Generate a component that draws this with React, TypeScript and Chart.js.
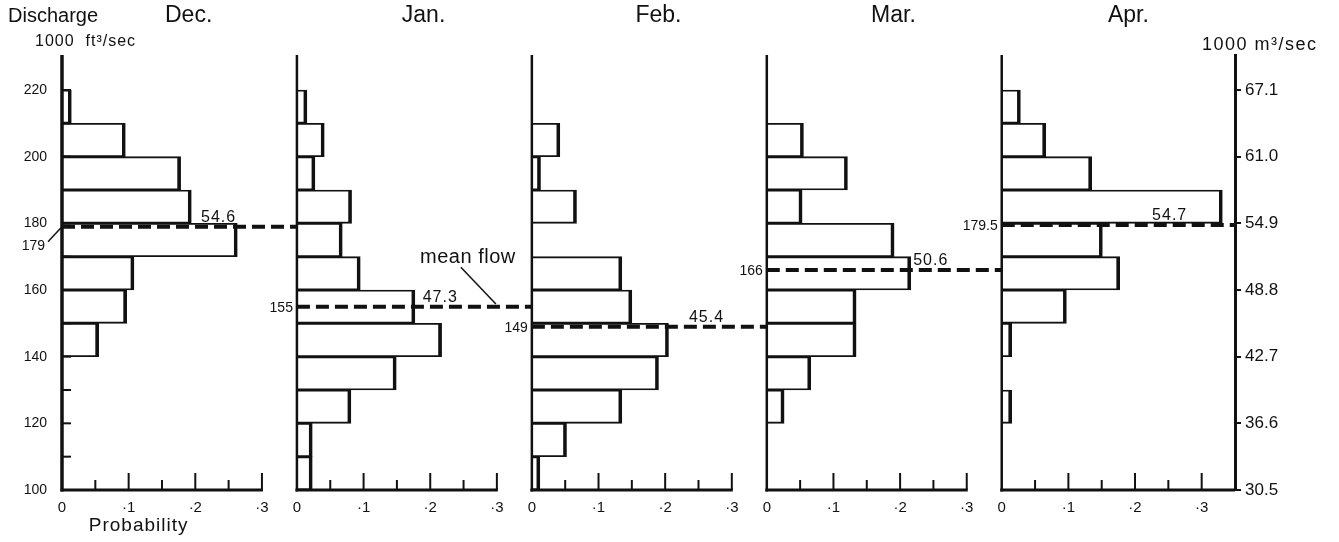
import React, { useEffect, useRef } from "react";
import { Chart, registerables } from "chart.js";

Chart.register(...registerables);

// ---------- data ----------
const MONTHS = ["Dec.", "Jan.", "Feb.", "Mar.", "Apr."];
// lower edge of each discharge class (1000 ft3/sec), class width 10
const BIN_LOWER = [100, 110, 120, 130, 140, 150, 160, 170, 180, 190, 200, 210];
const BIN_WIDTH = 10;
const DEC = [0, 0, 0, 0, 0.055, 0.097, 0.108, 0.263, 0.194, 0.178, 0.095, 0.014];
const JAN = [0.023, 0.023, 0.081, 0.149, 0.217, 0.177, 0.095, 0.068, 0.082, 0.027, 0.041, 0.015];
const FEB = [0.012, 0.052, 0.135, 0.19, 0.205, 0.15, 0.135, 0, 0.067, 0.013, 0.042, 0];
const MAR = [0, 0, 0.026, 0.066, 0.134, 0.134, 0.216, 0.191, 0.053, 0.121, 0.055, 0];
const APR = [0, 0, 0.015, 0, 0.015, 0.097, 0.177, 0.151, 0.331, 0.135, 0.066, 0.028];
const SERIES = [DEC, JAN, FEB, MAR, APR];

const MEAN_KFT = [179, 155, 149, 166, 179.5];
const MEAN_KFT_LABELS = ["179", "155", "149", "166", "179.5"];
const MEAN_M3_LABELS = ["54.6", "47.3", "45.4", "50.6", "54.7"];

const Y_TICKS = [100, 110, 120, 130, 140, 150, 160, 170, 180, 190, 200, 210, 220];
const Y_LABELLED = [100, 120, 140, 160, 180, 200, 220];
const RIGHT_TICK_LABELS = ["30.5", "36.6", "42.7", "48.8", "54.9", "61.0", "67.1"];
const X_TICK_VALUES = [0, 0.1, 0.2, 0.3];
const X_TICK_LABELS = ["0", "·1", "·2", "·3"];
const X_MINOR_VALUES = [0.05, 0.1, 0.15, 0.2, 0.25, 0.3];

// ---------- layout ----------
const PANEL_STEP = 0.3525;
const LAST_MAX = 0.35;
const X_MAX = 4 * PANEL_STEP + LAST_MAX;
const Y_MIN = 100;
const Y_MAX = 230.5;
const VALUE_LABEL_POS = [0.235, 0.215, 0.262, 0.246, 0.252];
const TITLE_POS = 0.19;
const INK = "#111";
const FONT = '"Liberation Sans", Arial, Helvetica, sans-serif';

function localTickLabel(value: number): string {
  const panel = Math.floor((value + 1e-6) / PANEL_STEP);
  const local = value - panel * PANEL_STEP;
  const i = X_TICK_VALUES.findIndex((t) => Math.abs(t - local) < 1e-6);
  return i >= 0 ? X_TICK_LABELS[i] : "";
}

const decor = {
  id: "decor",
  afterDatasetsDraw(chart: any) {
    const ctx: any = chart.ctx;
    const xs = chart.scales.x;
    const ys = chart.scales.y;
    const area = chart.chartArea;
    const X = (p: number, v: number) => xs.getPixelForValue(p * PANEL_STEP + v);
    const Y = (v: number) => ys.getPixelForValue(v);
    const line = (x1: number, y1: number, x2: number, y2: number) => {
      ctx.beginPath();
      ctx.moveTo(x1, y1);
      ctx.lineTo(x2, y2);
      ctx.stroke();
    };
    ctx.save();
    ctx.strokeStyle = INK;
    ctx.fillStyle = INK;
    ctx.lineCap = "butt";

    for (let p = 0; p < 5; p++) {
      const x0 = X(p, 0);
      ctx.lineWidth = p === 0 ? 3.5 : 2.5;
      line(x0, Y(Y_MIN) + 1.5, x0, area.top);
      ctx.lineWidth = 3;
      const xEnd = p === 4 ? xs.getPixelForValue(X_MAX) : X(p, 0.3) + 1;
      line(x0 - 1.5, Y(Y_MIN), xEnd, Y(Y_MIN));
      ctx.lineWidth = 2;
      X_MINOR_VALUES.forEach((v, k) => {
        const len = k % 2 === 1 ? 17 : 10;
        line(X(p, v), Y(Y_MIN), X(p, v), Y(Y_MIN) - len);
      });
    }
    // minor ticks on the discharge axis of the first panel
    ctx.lineWidth = 2;
    Y_TICKS.forEach((v) => line(X(0, 0), Y(v), X(0, 0) + 9, Y(v)));

    // mean-flow lines
    ctx.lineWidth = 4;
    ctx.setLineDash([13, 6]);
    for (let p = 0; p < 5; p++) {
      const y = Y(MEAN_KFT[p]);
      const x1 = p < 4 ? X(p + 1, 0) : xs.getPixelForValue(X_MAX);
      line(X(p, 0), y, x1, y);
    }
    ctx.setLineDash([]);

    // labels of the mean flow
    for (let p = 0; p < 5; p++) {
      const y = Y(MEAN_KFT[p]);
      const x0 = X(p, 0);
      ctx.font = `14px ${FONT}`;
      ctx.letterSpacing = "0px";
      ctx.textBaseline = "middle";
      ctx.textAlign = "right";
      if (p === 0) {
        ctx.fillText(MEAN_KFT_LABELS[p], x0 - 17, y + 19);
        ctx.lineWidth = 1.5;
        line(x0 - 14, y + 15, x0 - 1, y + 1);
      } else {
        ctx.fillText(MEAN_KFT_LABELS[p], x0 - 4, y + 1);
      }
      ctx.textAlign = "center";
      ctx.textBaseline = "alphabetic";
      ctx.font = `16px ${FONT}`;
      ctx.letterSpacing = "1px";
      ctx.fillText(MEAN_M3_LABELS[p], X(p, VALUE_LABEL_POS[p]), y - 5);
    }

    // "mean flow" annotation
    ctx.textBaseline = "middle";
    ctx.font = `20px ${FONT}`;
    ctx.letterSpacing = "0.5px";
    ctx.textAlign = "center";
    ctx.fillText("mean flow", X(1, 0.2565), Y(169.8));
    ctx.lineWidth = 1.5;
    line(X(1, 0.246), Y(166.8), X(1, 0.2985), Y(155.8));

    // titles
    ctx.letterSpacing = "0px";
    ctx.font = `23px ${FONT}`;
    MONTHS.forEach((m, p) => ctx.fillText(m, X(p, TITLE_POS), area.top - 39));
    ctx.textAlign = "left";
    ctx.font = `20px ${FONT}`;
    ctx.fillText("Discharge", 8, area.top - 39);
    ctx.font = `16px ${FONT}`;
    ctx.letterSpacing = "1px";
    ctx.fillText("1000  ft³/sec", 35, area.top - 13);
    ctx.font = `18px ${FONT}`;
    ctx.letterSpacing = "1.5px";
    ctx.fillText("1000 m³/sec", area.right - 33, area.top - 10);
    ctx.textAlign = "center";
    ctx.font = `19px ${FONT}`;
    ctx.letterSpacing = "1px";
    ctx.fillText("Probability", X(0, 0.115), area.bottom + 36);
    ctx.restore();
  },
};

export default function App() {
  const ref = useRef<HTMLCanvasElement | null>(null);
  useEffect(() => {
    if (!ref.current) return;
    const datasets = SERIES.map((vals, p) => ({
      label: MONTHS[p],
      data: BIN_LOWER.map((lo, i) =>
        vals[i] > 0 ? { y: lo + BIN_WIDTH / 2, x: [p * PANEL_STEP, p * PANEL_STEP + vals[i]] } : null
      ).filter((d) => d !== null),
      backgroundColor: "rgba(255,255,255,0)",
      borderColor: INK,
      borderWidth: { top: 1.2, bottom: 1.2, left: 0, right: 3 },
      borderSkipped: false,
      barPercentage: 1,
      categoryPercentage: 1,
      grouped: false,
    }));
    const chart = new Chart(ref.current, {
      type: "bar",
      data: { datasets: datasets as any },
      plugins: [decor],
      options: {
        indexAxis: "y",
        animation: false,
        responsive: true,
        maintainAspectRatio: false,
        events: [],
        layout: { padding: { top: 55, left: 0, right: 0, bottom: 0 } },
        plugins: { legend: { display: false }, tooltip: { enabled: false } },
        scales: {
          x: {
            type: "linear",
            position: "bottom",
            min: 0,
            max: X_MAX,
            offset: false,
            grid: { display: false, offset: false },
            border: { display: false },
            afterBuildTicks: (s: any) => {
              const t: any[] = [];
              for (let p = 0; p < 5; p++) X_TICK_VALUES.forEach((v) => t.push({ value: p * PANEL_STEP + v }));
              s.ticks = t;
            },
            afterFit: (s: any) => {
              s.height = 52;
            },
            ticks: {
              autoSkip: false,
              maxRotation: 0,
              padding: 1,
              color: INK,
              font: { family: FONT, size: 15 },
              callback: (v: any) => localTickLabel(Number(v)),
            },
          },
          y: {
            type: "linear",
            position: "left",
            min: Y_MIN,
            max: Y_MAX,
            offset: false,
            grid: { display: false, offset: false },
            border: { display: false },
            afterBuildTicks: (s: any) => {
              s.ticks = Y_TICKS.map((v) => ({ value: v }));
            },
            afterFit: (s: any) => {
              s.width = 62;
            },
            ticks: {
              autoSkip: false,
              padding: 7,
              color: INK,
              font: { family: FONT, size: 14 },
              callback: (v: any) => (Y_LABELLED.includes(Number(v)) ? String(v) : ""),
            },
          },
          y2: {
            type: "linear",
            position: "right",
            min: Y_MIN,
            max: Y_MAX,
            offset: false,
            grid: {
              display: true,
              offset: false,
              drawOnChartArea: false,
              drawTicks: true,
              tickLength: 6,
              lineWidth: 2,
              color: INK,
            },
            border: { display: true, width: 3, color: INK },
            afterBuildTicks: (s: any) => {
              s.ticks = Y_LABELLED.map((v) => ({ value: v }));
            },
            afterFit: (s: any) => {
              s.width = 104;
            },
            ticks: {
              autoSkip: false,
              padding: 4,
              color: INK,
              font: { family: FONT, size: 17 },
              callback: (v: any) => RIGHT_TICK_LABELS[Y_LABELLED.indexOf(Number(v))] ?? "",
            },
          },
        },
      } as any,
    });
    return () => chart.destroy();
  }, []);
  return (
    <div style={{ position: "fixed", left: 0, top: 0, width: 1339, height: 542, background: "#fff" }}>
      <canvas ref={ref} />
    </div>
  );
}
